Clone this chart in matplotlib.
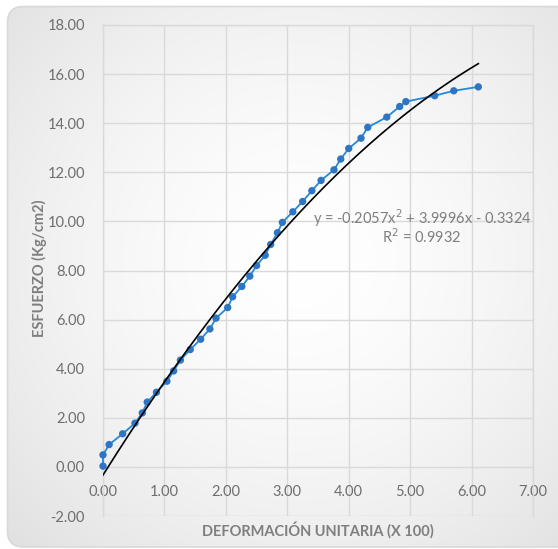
import numpy as np
import matplotlib
matplotlib.use("Agg")
import matplotlib.pyplot as plt
from matplotlib.patches import FancyBboxPatch

plt.rcParams['font.family'] = ['Lato', 'DejaVu Sans']

# Measured strain (x 100) and stress (kg/cm2)
deformacion = [0.00, 0.00, 0.10, 0.32, 0.52, 0.64, 0.72, 0.87, 1.04, 1.15,
               1.26, 1.42, 1.59, 1.74, 1.84, 2.03, 2.11, 2.26, 2.39, 2.50,
               2.64, 2.73, 2.84, 2.92, 3.09, 3.25, 3.40, 3.55, 3.76, 3.87,
               4.00, 4.20, 4.31, 4.62, 4.83, 4.93, 5.40, 5.71, 6.11]
esfuerzo = [0.03, 0.49, 0.91, 1.35, 1.78, 2.20, 2.64, 3.04, 3.49, 3.91,
            4.35, 4.78, 5.20, 5.62, 6.06, 6.49, 6.93, 7.35, 7.77, 8.20,
            8.62, 9.06, 9.54, 9.96, 10.39, 10.81, 11.25, 11.67, 12.10, 12.54,
            12.97, 13.39, 13.83, 14.25, 14.68, 14.88, 15.12, 15.32, 15.48]

# Polynomial trendline (order 2)
coef_a, coef_b, coef_c = -0.2057, 3.9996, -0.3324
r2 = 0.9932

x_ticks = [0, 1, 2, 3, 4, 5, 6, 7]
y_ticks = [-2, 0, 2, 4, 6, 8, 10, 12, 14, 16, 18]

W, H = 558, 549
fig = plt.figure(figsize=(W / 100, H / 100), dpi=100)

# Chart area background: soft radial gradient with rounded border
bg = fig.add_axes([0, 0, 1, 1], zorder=-10)
bg.set_axis_off()
yy, xx = np.mgrid[0:H, 0:W]
d = np.sqrt(((xx - 300) / 330) ** 2 + ((yy - 260) / 330) ** 2)
shade = 1.0 - 0.085 * np.clip(d, 0, 1.25) ** 1.6
img = np.dstack([shade, shade, shade])
bg.set_xlim(0, W)
bg.set_ylim(H, 0)
bg.add_patch(FancyBboxPatch((0, 0), W, H, boxstyle="square,pad=0",
                            facecolor="white", edgecolor="none"))
im = bg.imshow(img, extent=(0, W, H, 0), zorder=1)
frame = FancyBboxPatch((7.5, 6.5), W + 10, H - 8.5,
                       boxstyle="round,pad=0,rounding_size=16",
                       facecolor="none", edgecolor="#D9D9D9", lw=1.2, zorder=2)
bg.add_patch(frame)
im.set_clip_path(frame)

ax = fig.add_axes([103 / W, 1 - 516 / H, (533 - 103) / W, (516 - 25) / H])
ax.set_facecolor("none")
ax.set_xlim(0, 7)
ax.set_ylim(-2, 18)
ax.set_xticks(x_ticks)
ax.set_yticks(y_ticks)
ax.set_xticklabels([f"{v:.2f}" for v in x_ticks])
ax.set_yticklabels([f"{v:.2f}" for v in y_ticks])
ax.grid(True, color="#D9D9D9", lw=1.0, zorder=0)
ax.set_axisbelow(True)
for s in ax.spines.values():
    s.set_color("#D9D9D9")
    s.set_linewidth(1.0)
# Horizontal axis crosses at y = 0: labels sit just below that line
ax.spines['bottom'].set_position(('data', 0))
ax.spines['bottom'].set_visible(False)
ax.tick_params(axis='both', length=0, labelsize=10.5, labelcolor="#6E6E6E")
ax.tick_params(axis='x', pad=13)
ax.tick_params(axis='y', pad=13)

# Data series
ax.plot(deformacion, esfuerzo, color="#2389D8", lw=1.3, zorder=3,
        clip_on=False)
ax.scatter(deformacion, esfuerzo, s=28, color="#2E75C4", zorder=4,
           edgecolors="none", clip_on=False)

# Trendline
xt = np.linspace(0, max(deformacion), 200)
ax.plot(xt, coef_a * xt ** 2 + coef_b * xt + coef_c, color="black",
        lw=1.2, zorder=5)

fig.text(422 / W, 1 - 218 / H,
         f"y = {coef_a:.4f}x$^2$ + {coef_b:.4f}x - {abs(coef_c):.4f}",
         ha="center", va="center", fontsize=10.5, color="#7F7F7F")
fig.text(422 / W, 1 - 237 / H, f"R$^2$ = {r2:.4f}",
         ha="center", va="center", fontsize=10.5, color="#7F7F7F")

fig.text(318 / W, 1 - 530 / H, "DEFORMACIÓN UNITARIA (X 100)",
         ha="center", va="center", fontsize=10.5, fontweight="bold",
         color="#7F7F7F")
fig.text(39 / W, 1 - 268 / H, "ESFUERZO (Kg/cm2)", rotation=90,
         ha="center", va="center", fontsize=10.5, fontweight="bold",
         color="#7F7F7F")

fig.savefig("out.png", dpi=100)
